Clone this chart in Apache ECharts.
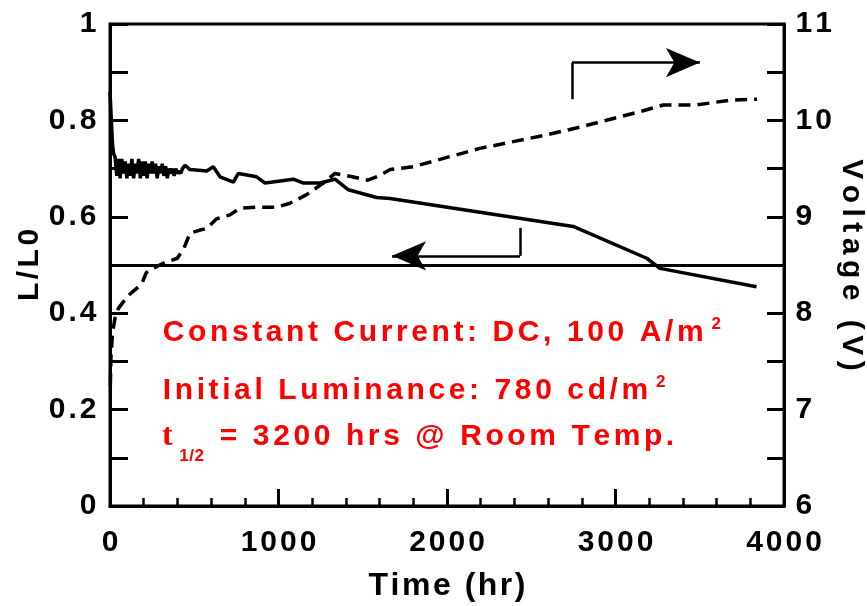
<!DOCTYPE html>
<html>
<head>
<meta charset="utf-8">
<script src="https://cdn.jsdelivr.net/npm/echarts@6/dist/echarts.min.js"></script>
<style>html,body{margin:0;padding:0;background:#fff}#c{width:867px;height:606px}</style>
</head>
<body>
<div id="c"></div>
<script>
// ---- data ----
const timeL = [0, 8, 15, 22, 30, 40, 50, 60, 70, 80, 90, 100, 110, 120, 130, 140, 150, 160, 170, 180, 190, 200, 210, 220, 230, 240, 250, 260, 270, 280, 290, 300, 310, 320, 330, 340, 350, 360, 370, 380, 390, 400, 410, 420, 430, 445, 475, 574, 613, 653, 732, 762, 870, 920, 1088, 1148, 1246, 1335, 1415, 1582, 1662, 2749, 3185, 3264, 3837];
const lum   = [0.86, 0.80, 0.75, 0.73, 0.725, 0.685, 0.72, 0.68, 0.72, 0.69, 0.715, 0.68, 0.71, 0.685, 0.72, 0.68, 0.71, 0.69, 0.72, 0.68, 0.715, 0.685, 0.715, 0.68, 0.71, 0.69, 0.715, 0.69, 0.71, 0.68, 0.705, 0.69, 0.71, 0.685, 0.705, 0.68, 0.70, 0.69, 0.70, 0.685, 0.70, 0.69, 0.695, 0.69, 0.70, 0.707, 0.698, 0.695, 0.704, 0.683, 0.672, 0.690, 0.683, 0.670, 0.678, 0.670, 0.670, 0.678, 0.656, 0.640, 0.638, 0.580, 0.514, 0.493, 0.455];
const timeV = [2, 6, 15, 30, 50, 80, 120, 160, 190, 215, 260, 320, 400, 440, 475, 530, 575, 633, 712, 772, 870, 990, 1068, 1167, 1266, 1335, 1424, 1530, 1602, 1662, 1800, 2196, 2592, 2789, 3185, 3284, 3481, 3680, 3840];
const volt  = [7.25, 7.55, 7.8, 7.95, 8.05, 8.12, 8.2, 8.26, 8.31, 8.42, 8.47, 8.52, 8.57, 8.68, 8.83, 8.86, 8.88, 8.98, 9.02, 9.09, 9.10, 9.10, 9.14, 9.23, 9.35, 9.45, 9.42, 9.38, 9.43, 9.49, 9.52, 9.71, 9.85, 9.93, 10.11, 10.16, 10.16, 10.21, 10.22];
const halfLife = 0.5;
// annotation arrows (data coords): [x, yStart, yCorner, xTip]
const arrowRight = [2742, 10.22, 10.6, 3501];
const arrowLeft  = [2433, 0.577, 0.519, 1674];
const noteLines = ['Constant Current: DC, 100 A/m', 'Initial Luminance: 780 cd/m', '= 3200 hrs @ Room Temp.'];

const FONT = '"Liberation Sans", Arial, Helvetica, sans-serif';
function spaced(str, key) {
  return str.split('').map(c => '{' + key + '|' + c + '}').join('');
}
function tok(size, color, ls, extra) {
  return Object.assign({fontSize: size, fontWeight: 'bold', fontFamily: FONT, color: color, fill: color, padding: [0, ls / 2, 0, ls / 2]}, extra || {});
}
const lumData = timeL.map((t, i) => [t, lum[i]]);
const voltData = timeV.map((t, i) => [t, volt[i]]);
const RED = '#ff0000';

const chart = echarts.init(document.getElementById('c'), null, {renderer: 'canvas'});
const axisLbl = (key) => ({ [key]: tok(30, '#000', 3, {lineHeight: 32}) });
chart.setOption({
  animation: false,
  backgroundColor: '#fff',
  grid: {left: 110, right: 83, top: 24, bottom: 100, containLabel: false, outerBoundsMode: 'none', show: true, borderColor: '#000', borderWidth: 3, backgroundColor: 'transparent'},
  xAxis: {
    type: 'value', min: 0, max: 4000, interval: 1000,
    name: spaced('Time (hr)', 'n'), nameLocation: 'middle', nameGap: 64, nameMoveOverlap: false,
    nameTextStyle: {color: '#000', rich: {n: tok(32, '#000', 2.5)}},
    axisLine: {lineStyle: {color: '#000', width: 3}},
    axisTick: {inside: true, length: 17, lineStyle: {color: '#000', width: 3}},
    minorTick: {show: true, splitNumber: 5, length: 8, lineStyle: {color: '#000', width: 2.5}},
    splitLine: {show: false},
    axisLabel: {margin: 21, formatter: v => spaced(String(v), 'l'), rich: axisLbl('l')}
  },
  yAxis: [{
    type: 'value', min: 0, max: 1, interval: 0.1, position: 'left',
    name: spaced('L/L0', 'n'), nameLocation: 'middle', nameGap: 65, nameMoveOverlap: false,
    nameTextStyle: {color: '#000', rich: {n: tok(30, '#000', 3.5)}},
    axisLine: {lineStyle: {color: '#000', width: 3}},
    axisTick: {inside: true, length: 18, lineStyle: {color: '#000', width: 3}},
    splitLine: {show: false},
    axisLabel: {margin: 12, formatter: v => (Math.round(v * 10) % 2 ? '' : spaced(String(Math.round(v * 10) / 10), 'l')), rich: axisLbl('l')}
  }, {
    type: 'value', min: 6, max: 11, interval: 0.5, position: 'right',
    name: spaced('Voltage (V)', 'n'), nameLocation: 'middle', nameGap: 52, nameRotate: -90, nameMoveOverlap: false,
    nameTextStyle: {color: '#000', rich: {n: tok(30, '#000', 5.5)}},
    axisLine: {lineStyle: {color: '#000', width: 3}},
    axisTick: {inside: true, length: 17, lineStyle: {color: '#000', width: 3}},
    splitLine: {show: false},
    axisLabel: {margin: 10, formatter: v => (Math.abs(v - Math.round(v)) > 1e-6 ? '' : spaced(String(Math.round(v)), 'l')), rich: axisLbl('l')}
  }],
  series: [{
    type: 'line', name: 'L/L0', yAxisIndex: 0, data: lumData, showSymbol: false, symbol: 'none', silent: true,
    lineStyle: {color: '#000', width: 3.5}, z: 3,
    markLine: {
      silent: true, symbol: ['none', 'none'], label: {show: false},
      lineStyle: {color: '#000', width: 3, type: 'solid'},
      data: [
        {yAxis: halfLife},
        [{coord: [arrowLeft[0], arrowLeft[1]], lineStyle: {width: 2.5}}, {coord: [arrowLeft[0], arrowLeft[2]]}],
        [{coord: [arrowLeft[0], arrowLeft[2]], lineStyle: {width: 2.5}}, {coord: [arrowLeft[3], arrowLeft[2]], symbol: 'arrow', symbolSize: [22, 34]}]
      ]
    }
  }, {
    type: 'line', name: 'Voltage', yAxisIndex: 1, data: voltData, showSymbol: false, symbol: 'none', silent: true,
    lineStyle: {color: '#000', width: 3.5, type: [12, 7]}, z: 3,
    markLine: {
      silent: true, symbol: ['none', 'none'], label: {show: false},
      lineStyle: {color: '#000', width: 2.5, type: 'solid'},
      data: [
        [{coord: [arrowRight[0], arrowRight[1]]}, {coord: [arrowRight[0], arrowRight[2]]}],
        [{coord: [arrowRight[0], arrowRight[2]]}, {coord: [arrowRight[3], arrowRight[2]], symbol: 'arrow', symbolSize: [22, 34]}]
      ]
    }
  }],
  graphic: [
    {type: 'text', x: 161, y: 333, silent: true, style: {text: spaced(noteLines[0], 'a') + '{s|2}', verticalAlign: 'middle', align: 'left', fill: RED,
      rich: {a: tok(30, RED, 3.6, {lineHeight: 34}), s: tok(17, RED, 0, {verticalAlign: 'top', lineHeight: 20, padding: [0, 0, 0, 6]})}}},
    {type: 'text', x: 161, y: 391, silent: true, style: {text: spaced(noteLines[1], 'a') + '{s|2}', verticalAlign: 'middle', align: 'left', fill: RED,
      rich: {a: tok(30, RED, 3.6, {lineHeight: 34}), s: tok(17, RED, 0, {verticalAlign: 'top', lineHeight: 20, padding: [0, 0, 0, 6]})}}},
    {type: 'text', x: 162, y: 437, silent: true, style: {text: 't', verticalAlign: 'middle', align: 'left', fill: RED, font: 'bold 32px "Liberation Serif", "Times New Roman", serif'}},
    {type: 'text', x: 179, y: 456, silent: true, style: {text: spaced('1/2', 'b'), verticalAlign: 'middle', align: 'left', fill: RED, rich: {b: tok(17, RED, 0.5)}}},
    {type: 'text', x: 218, y: 437, silent: true, style: {text: spaced(noteLines[2], 'a'), verticalAlign: 'middle', align: 'left', fill: RED, rich: {a: tok(30, RED, 3.6, {lineHeight: 34})}}}
  ]
});
</script>
</body>
</html>
